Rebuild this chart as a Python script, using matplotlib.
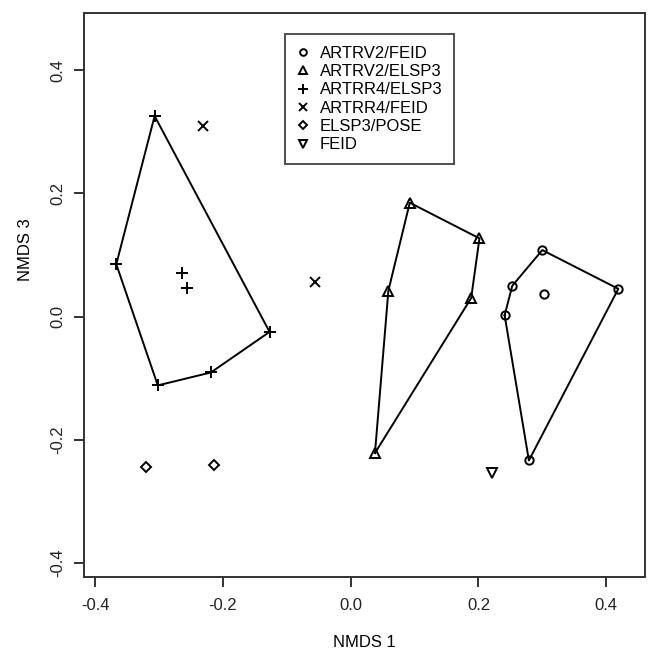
import numpy as np
import matplotlib
matplotlib.use("Agg")
import matplotlib.pyplot as plt

plt.rcParams['font.family'] = ['Liberation Sans', 'DejaVu Sans']

# NMDS scores per group (axis 1, axis 3)
artrv2_feid_x = [0.300, 0.253, 0.241, 0.302, 0.419, 0.279]
artrv2_feid_y = [0.108, 0.050, 0.002, 0.037, 0.045, -0.234]
artrv2_elsp3_x = [0.0925, 0.2016, 0.059, 0.1886, 0.038]
artrv2_elsp3_y = [0.185, 0.127, 0.042, 0.030, -0.222]
artrr4_elsp3_x = [-0.307, -0.367, -0.264, -0.256, -0.127, -0.219, -0.302]
artrr4_elsp3_y = [0.326, 0.085, 0.070, 0.047, -0.025, -0.091, -0.112]
artrr4_feid_x = [-0.231, -0.056]
artrr4_feid_y = [0.310, 0.056]
elsp3_pose_x = [-0.321, -0.214]
elsp3_pose_y = [-0.245, -0.241]
feid_x = [0.221]
feid_y = [-0.255]

labels = ['ARTRV2/FEID', 'ARTRV2/ELSP3', 'ARTRR4/ELSP3', 'ARTRR4/FEID', 'ELSP3/POSE', 'FEID']
xs = [artrv2_feid_x, artrv2_elsp3_x, artrr4_elsp3_x, artrr4_feid_x, elsp3_pose_x, feid_x]
ys = [artrv2_feid_y, artrv2_elsp3_y, artrr4_elsp3_y, artrr4_feid_y, elsp3_pose_y, feid_y]
markers = ['o', '^', '+', 'x', 'D', 'v']
msizes = [6, 7, 8.5, 6.5, 5.5, 7]
hull_groups = [0, 1, 2]


def convex_hull(px, py):
    pts = sorted(zip(px, py))

    def cross(o, a, b):
        return (a[0] - o[0]) * (b[1] - o[1]) - (a[1] - o[1]) * (b[0] - o[0])

    lower, upper = [], []
    for p in pts:
        while len(lower) >= 2 and cross(lower[-2], lower[-1], p) <= 0:
            lower.pop()
        lower.append(p)
    for p in reversed(pts):
        while len(upper) >= 2 and cross(upper[-2], upper[-1], p) <= 0:
            upper.pop()
        upper.append(p)
    h = lower[:-1] + upper[:-1]
    h.append(h[0])
    return np.array(h)


fig = plt.figure(figsize=(6.48, 6.54), dpi=100)
ax = fig.add_axes([0.1292, 0.1182, 0.8654, 0.8615])

for g in hull_groups:
    h = convex_hull(xs[g], ys[g])
    ax.plot(h[:, 0], h[:, 1], color='black', lw=1.4, zorder=2)

handles = []
for x, y, m, ms, lab in zip(xs, ys, markers, msizes, labels):
    hd, = ax.plot(x, y, linestyle='none', marker=m, ms=ms, mfc='none',
                  mec='black', mew=1.4, label=lab, zorder=3)
    handles.append(hd)

ax.set_xlim(-0.418, 0.460)
ax.set_ylim(-0.423, 0.493)
ax.set_xticks([-0.4, -0.2, 0.0, 0.2, 0.4])
ax.set_yticks([-0.4, -0.2, 0.0, 0.2, 0.4])
ax.set_xticklabels(['-0.4', '-0.2', '0.0', '0.2', '0.4'], fontsize=12)
ax.set_yticklabels(['-0.4', '-0.2', '0.0', '0.2', '0.4'], fontsize=12,
                   rotation=90, va='center')
ax.tick_params(direction='out', length=7, width=1.3, colors='#222222', pad=8)
ax.tick_params(axis='y', pad=6)
for s in ax.spines.values():
    s.set_linewidth(1.4)
    s.set_color('#333333')

ax.set_xlabel('NMDS 1', fontsize=12, va='center')
ax.xaxis.set_label_coords(0.5, -0.116)
ax.set_ylabel('NMDS 3', fontsize=12, va='center')
ax.yaxis.set_label_coords(-0.103, 0.58)

leg = ax.legend(handles=handles, loc='upper left', bbox_to_anchor=(0.359, 0.963),
                fontsize=12, frameon=True, fancybox=False, edgecolor='#222222',
                handlelength=0.8, handletextpad=0.6, labelspacing=0.2,
                borderpad=0.7, borderaxespad=0, markerscale=0.8)
leg.get_frame().set_linewidth(1.4)

fig.savefig('out.png', dpi=100)
